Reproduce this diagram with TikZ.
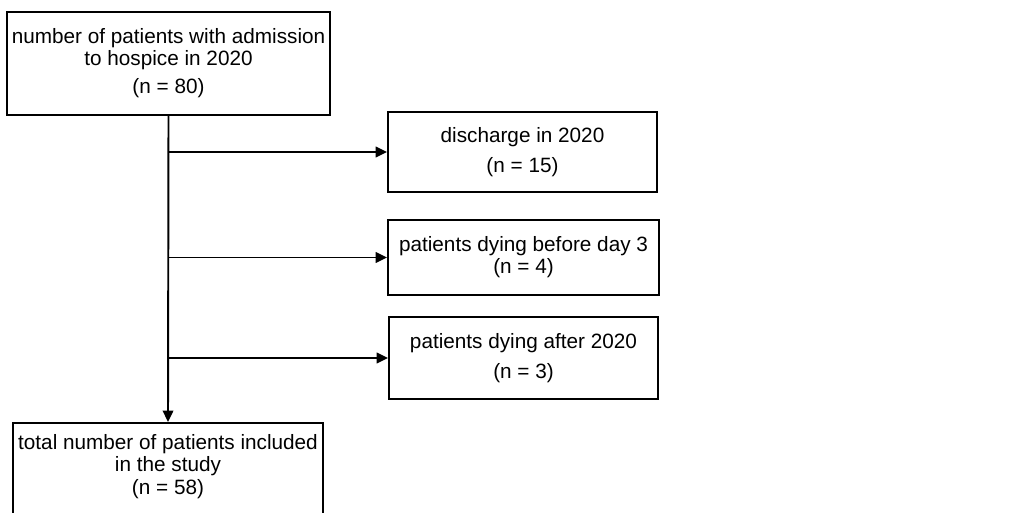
\documentclass[tikz,border=0pt]{standalone}
\usepackage{fontspec}
\setmainfont{Liberation Sans}
\usetikzlibrary{arrows.meta}

\begin{document}
\begin{tikzpicture}[x=0.02cm,y=-0.02cm,
  mybox/.style={draw,line width=1.1pt,align=center,inner sep=2pt,
    font=\fontsize{11.8}{12.5}\selectfont},
  myarrow/.style={line width=1.1pt,-{Triangle[length=6.5pt,width=6pt]}}]
\useasboundingbox (0,0) rectangle (1028,513);
\clip (0,0) rectangle (1028,513);
\node [mybox,minimum width=6.46cm,minimum height=2.06cm] (admitted) at (168.5,63.5)
  {number of patients with admission\\to hospice in 2020\\[3.5pt](n = 80)};
\node [mybox,minimum width=5.38cm,minimum height=1.6cm] (discharge) at (522.5,152)
  {discharge in 2020\\[4.5pt](n = 15)};
\node [mybox,minimum width=5.42cm,minimum height=1.5cm] (dyingbefore) at (523.5,257.5)
  {patients dying before day 3\\(n = 4)};
\node [mybox,minimum width=5.38cm,minimum height=1.64cm] (dyingafter) at (523.5,358)
  {patients dying after 2020\\[4.5pt](n = 3)};
\node [mybox,minimum width=6.2cm,anchor=north,inner ysep=6.5pt,text depth=1.5cm] (included) at (168,422)
  {total number of patients included\\in the study\\[0.5pt](n = 58)};
\draw [myarrow] (admitted.south) -- (included.north);
\foreach \excl in {discharge,dyingbefore,dyingafter}
  {\draw [myarrow] (admitted.south |- \excl.west) -- (\excl.west);}
\end{tikzpicture}
\end{document}
